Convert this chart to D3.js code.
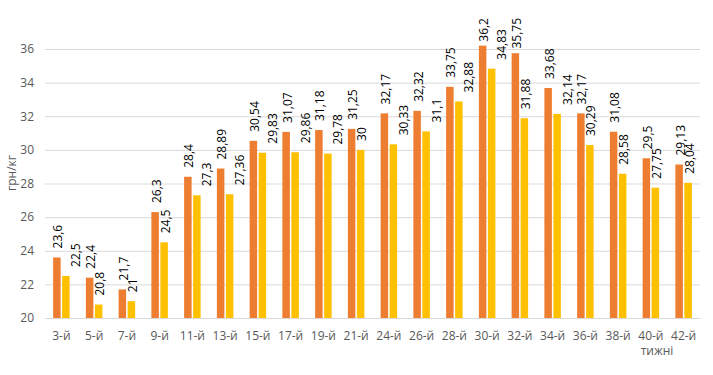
<!DOCTYPE html>
<html>
<head>
<meta charset="utf-8">
<script src="https://cdn.jsdelivr.net/npm/d3@7"></script>
<style>
  body { margin: 0; background: #fff; }
  svg { font-family: "Open Sans", "DejaVu Sans", sans-serif; }
</style>
</head>
<body>
<svg width="713" height="375"></svg>
<script>
const weeks = ['3-й','5-й','7-й','9-й','11-й','13-й','15-й','17-й','19-й','21-й',
  '24-й','26-й','28-й','30-й','32-й','34-й','36-й','38-й','40-й','42-й'];
const seriesA = [23.6, 22.4, 21.7, 26.3, 28.4, 28.89, 30.54, 31.07, 31.18, 31.25,
  32.17, 32.32, 33.75, 36.2, 35.75, 33.68, 32.17, 31.08, 29.5, 29.13];
const seriesB = [22.5, 20.8, 21, 24.5, 27.3, 27.36, 29.83, 29.86, 29.78, 30,
  30.33, 31.1, 32.88, 34.83, 31.88, 32.14, 30.29, 28.58, 27.75, 28.04];
const yTicks = [20, 22, 24, 26, 28, 30, 32, 34, 36];

// weeks where the second series' label was moved aside in the original
const movedLabels = ['3-й','11-й','13-й','15-й','17-й','19-й','24-й','26-й','28-й','30-й','34-й'];

const svg = d3.select('svg');
const margin = { top: 49, right: 13, bottom: 57, left: 45 };
const width = +svg.attr('width');
const height = +svg.attr('height');
const innerWidth = width - margin.left - margin.right;
const innerHeight = height - margin.top - margin.bottom;
const labelTop = 18; // labels are kept inside the chart area

const g = svg.append('g')
  .attr('transform', `translate(${margin.left},${margin.top})`);

const xScale = d3.scaleBand()
  .domain(weeks)
  .range([0, innerWidth]);

const yScale = d3.scaleLinear()
  .domain([20, 36])
  .range([innerHeight, 0]);

const barW = 7.5, gap = 1.5;

// gridlines + y labels
g.append('g')
  .call(d3.axisLeft(yScale).tickValues(yTicks).tickSize(-innerWidth).tickFormat(d => d).tickPadding(11))
  .call(a => a.select('.domain').remove())
  .call(a => a.selectAll('.tick line').attr('stroke', '#d9d9d9'))
  .call(a => a.selectAll('.tick text').attr('fill', '#595959').attr('font-size', 12)
    .attr('font-family', '"Open Sans", sans-serif'));

// x axis
g.append('g')
  .attr('transform', `translate(0,${innerHeight})`)
  .call(d3.axisBottom(xScale).tickSize(0).tickPadding(13))
  .call(a => a.select('.domain').attr('stroke', '#d9d9d9'))
  .call(a => a.selectAll('.tick text').attr('fill', '#595959').attr('font-size', 12)
    .attr('font-family', '"Open Sans", sans-serif'));

const series = [
  { values: seriesA, color: '#ED7D31', offset: -(barW + gap) / 2, nudge: 0 },
  { values: seriesB, color: '#FFC000', offset: (barW + gap) / 2, nudge: 9 }
];

const fmt = v => String(v).replace('.', ',');

series.forEach(s => {
  const cx = (d, i) => xScale(weeks[i]) + xScale.bandwidth() / 2 + s.offset;
  g.append('g').selectAll('rect').data(s.values)
    .enter().append('rect')
    .attr('x', (d, i) => cx(d, i) - barW / 2)
    .attr('y', d => yScale(d))
    .attr('width', barW)
    .attr('height', d => innerHeight - yScale(d))
    .attr('fill', s.color);

  g.append('g').selectAll('text').data(s.values)
    .enter().append('text')
    .attr('font-size', 12)
    .attr('fill', '#000')
    .text(fmt)
    .each(function(d, i) {
      const len = this.getComputedTextLength();
      let end = yScale(d) - 9;
      if (end - len + margin.top < labelTop) end = labelTop - margin.top + len;
      const dx = movedLabels.includes(weeks[i]) ? s.nudge : 0;
      d3.select(this).attr('transform', `translate(${cx(d, i) + 5.5 + dx},${end}) rotate(-90)`);
    });
});

// axis titles
svg.append('text')
  .attr('transform', 'translate(16,173) rotate(-90)')
  .attr('text-anchor', 'middle')
  .attr('font-size', 12)
  .attr('fill', '#595959')
  .text('грн/кг');

svg.append('text')
  .attr('x', 657)
  .attr('y', 355)
  .attr('text-anchor', 'middle')
  .attr('font-size', 12)
  .attr('fill', '#595959')
  .text('тижні');
</script>
</body>
</html>
